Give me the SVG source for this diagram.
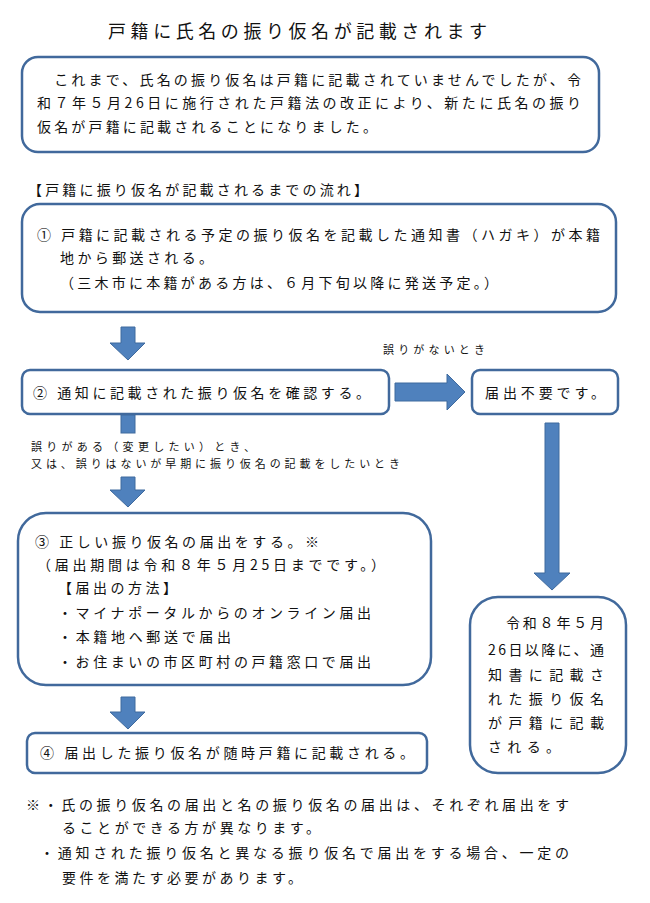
<svg xmlns="http://www.w3.org/2000/svg" width="650" height="903" viewBox="0 0 650 903">
<style>
text{font-family:"Noto Sans CJK JP","Noto Sans CJK SC",sans-serif;fill:#111;font-size:14px}
.t{font-size:18px}
.s{font-size:11px}
.box{fill:#fff;stroke:#41699C;stroke-width:2.5}
.arr{fill:#4F81BD;stroke:#3F6A9E;stroke-width:1}
</style>
<rect width="650" height="903" fill="#fff"/>
<g id="title"><text class="t" x="108" y="38" textLength="379" lengthAdjust="spacing">戸籍に氏名の振り仮名が記載されます</text></g>
<g id="intro">
<rect class="box" x="22" y="57" width="577" height="95" rx="16"/>
<text x="37" y="85" textLength="544" lengthAdjust="spacing">　これまで、氏名の振り仮名は戸籍に記載されていませんでしたが、令</text>
<text x="37" y="108" textLength="544" lengthAdjust="spacing">和７年５月26日に施行された戸籍法の改正により、新たに氏名の振り</text>
<text x="37" y="132" textLength="340" lengthAdjust="spacing">仮名が戸籍に記載されることになりました。</text>
</g>
<g id="heading"><text x="28" y="195" textLength="340" lengthAdjust="spacing">【戸籍に振り仮名が記載されるまでの流れ】</text></g>
<g id="step1">
<rect class="box" x="22" y="204" width="594" height="108" rx="18"/>
<text x="37" y="240" textLength="563" lengthAdjust="spacing">① 戸籍に記載される予定の振り仮名を記載した通知書（ハガキ）が本籍</text>
<text x="60" y="263" textLength="153" lengthAdjust="spacing">地から郵送される。</text>
<text x="60" y="288" textLength="438" lengthAdjust="spacing">（三木市に本籍がある方は、６月下旬以降に発送予定。）</text>
</g>
<g id="step2">
<rect class="box" x="22" y="370" width="367" height="44" rx="8"/>
<text x="33" y="398" textLength="337" lengthAdjust="spacing">② 通知に記載された振り仮名を確認する。</text>
</g>
<g id="nochange">
<rect class="box" x="472" y="370" width="146" height="44" rx="8"/>
<text x="485" y="398" textLength="120" lengthAdjust="spacing">届出不要です。</text>
</g>
<g id="step3">
<rect class="box" x="18" y="513" width="413" height="172" rx="28"/>
<text x="35" y="547" textLength="284" lengthAdjust="spacing">③ 正しい振り仮名の届出をする。※</text>
<text x="37" y="570" textLength="348" lengthAdjust="spacing">（届出期間は令和８年５月25日までです。）</text>
<text x="58" y="593" textLength="119" lengthAdjust="spacing">【届出の方法】</text>
<text x="58" y="618" textLength="313" lengthAdjust="spacing">・マイナポータルからのオンライン届出</text>
<text x="58" y="642" textLength="173" lengthAdjust="spacing">・本籍地へ郵送で届出</text>
<text x="58" y="667" textLength="313" lengthAdjust="spacing">・お住まいの市区町村の戸籍窓口で届出</text>
</g>
<g id="auto">
<rect class="box" x="470" y="597" width="156" height="176" rx="28"/>
<text x="506" y="628" textLength="98" lengthAdjust="spacing">令和８年５月</text>
<text x="488" y="655" textLength="116" lengthAdjust="spacing">26日以降に、通</text>
<text x="488" y="680" textLength="116" lengthAdjust="spacing">知書に記載さ</text>
<text x="488" y="704" textLength="116" lengthAdjust="spacing">れた振り仮名</text>
<text x="488" y="728" textLength="116" lengthAdjust="spacing">が戸籍に記載</text>
<text x="488" y="752" textLength="72" lengthAdjust="spacing">される。</text>
</g>
<g id="step4">
<rect class="box" x="27" y="733" width="400" height="40" rx="8"/>
<text x="40" y="758" textLength="374" lengthAdjust="spacing">④ 届出した振り仮名が随時戸籍に記載される。</text>
</g>
<g id="connectors">
<polygon class="arr" points="121,327 135,327 135,343 145,343 128,360 110,343 121,343"/>
<rect class="arr" x="121" y="415" width="14" height="18"/>
<polygon class="arr" points="121,477 135,477 135,490 145,490 128,507 110,490 121,490"/>
<polygon class="arr" points="121,697 135,697 135,712 145,712 128,729 110,712 121,712"/>
<polygon class="arr" points="395,383 447,383 447,374 465,392 447,410 447,401 395,401"/>
<polygon class="arr" points="545,423 559,423 559,573 570,573 552,590 534,573 545,573"/>
<text class="s" x="383" y="354" textLength="102" lengthAdjust="spacing">誤りがないとき</text>
<text class="s" x="31" y="451" textLength="224" lengthAdjust="spacing">誤りがある（変更したい）とき、</text>
<text class="s" x="31" y="468" textLength="369" lengthAdjust="spacing">又は、誤りはないが早期に振り仮名の記載をしたいとき</text>
</g>
<g id="notes">
<text x="26" y="810" textLength="543" lengthAdjust="spacing">※・氏の振り仮名の届出と名の振り仮名の届出は、それぞれ届出をす</text>
<text x="62" y="833" textLength="258" lengthAdjust="spacing">ることができる方が異なります。</text>
<text x="40" y="858" textLength="529" lengthAdjust="spacing">・通知された振り仮名と異なる振り仮名で届出をする場合、一定の</text>
<text x="62" y="883" textLength="240" lengthAdjust="spacing">要件を満たす必要があります。</text>
</g>
</svg>
